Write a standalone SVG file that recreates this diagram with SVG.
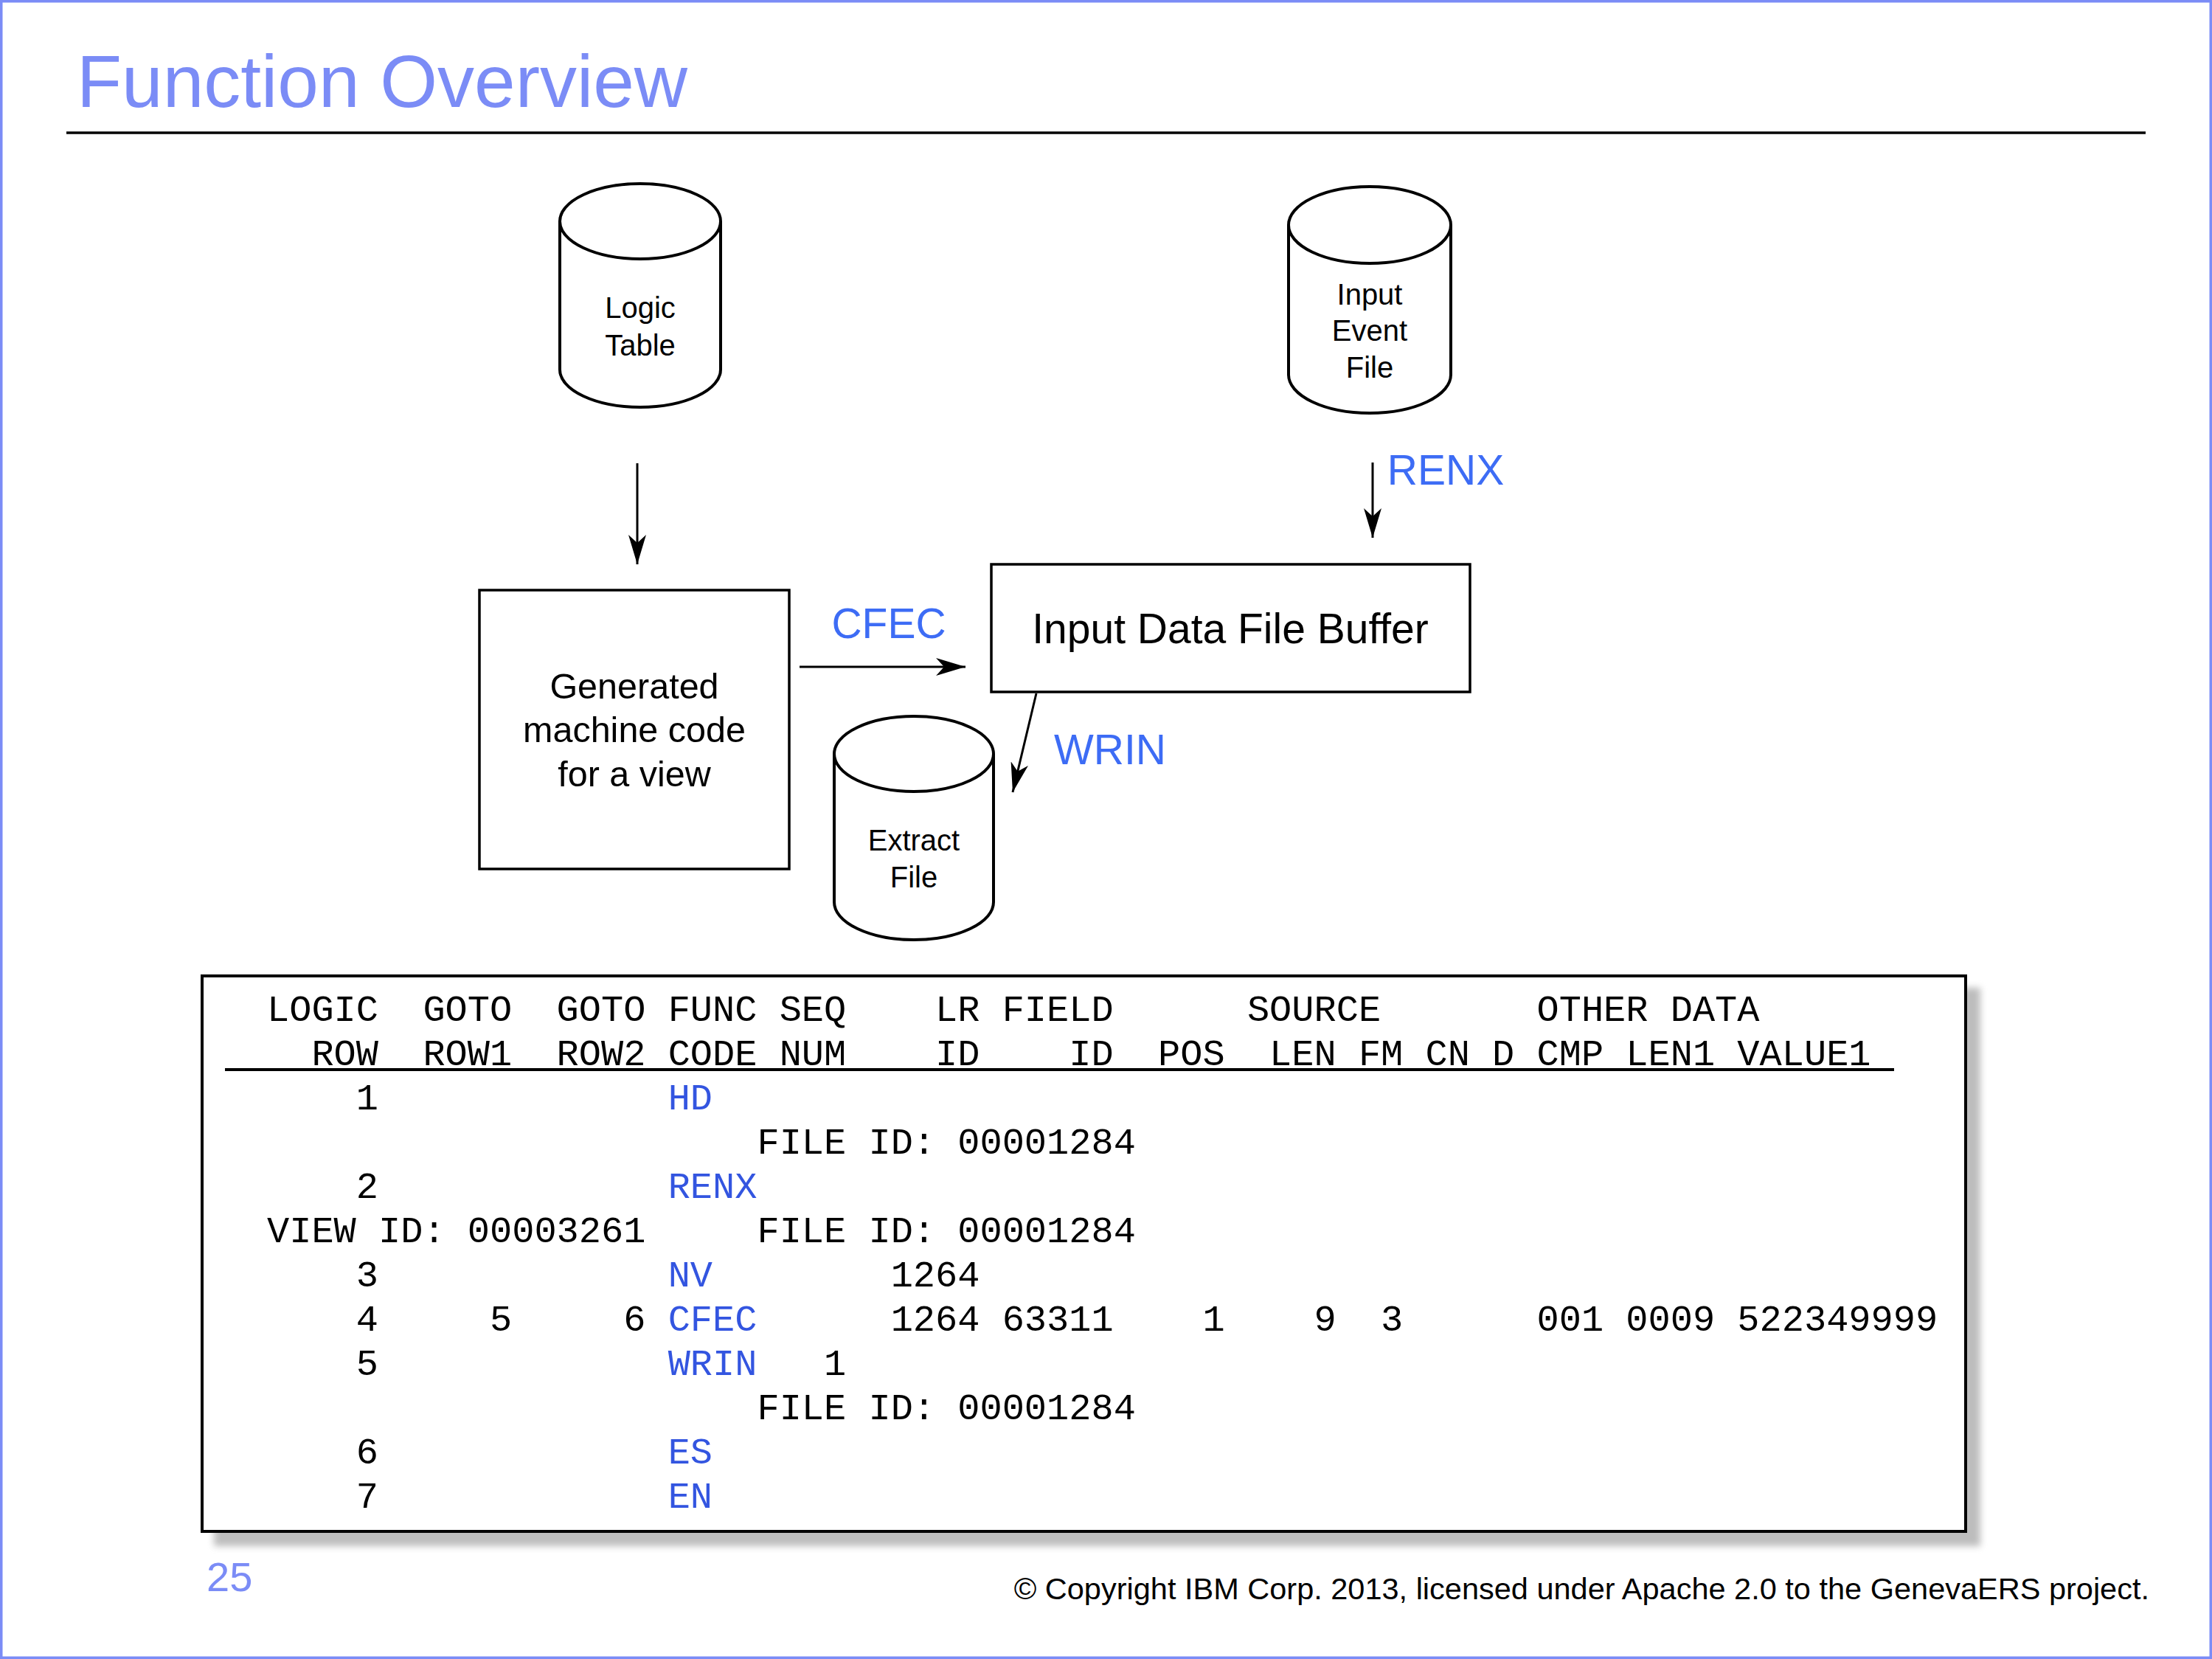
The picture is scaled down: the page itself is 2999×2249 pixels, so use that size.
<svg xmlns="http://www.w3.org/2000/svg" width="2999" height="2249" viewBox="0 0 2999 2249">
<style>
.sans{font-family:"Liberation Sans",Arial,Helvetica,sans-serif}
.mono{font-family:"Liberation Mono","Courier New",monospace;font-size:50.33px;fill:#000;white-space:pre}
.shape{fill:#fff;stroke:#000;stroke-width:4}
.box{fill:#fff;stroke:#000;stroke-width:3.5}
.lbl{font-family:"Liberation Sans",Arial,sans-serif;fill:#000;text-anchor:middle}
.flow{font-family:"Liberation Sans",Arial,sans-serif;fill:#3d6cf5;text-anchor:middle;font-size:57px}
.code{fill:#3355e0}
.conn{stroke:#000;stroke-width:3;fill:none;marker-end:url(#ah)}
</style>
<defs>
<marker id="ah" viewBox="0 0 40 24" refX="40" refY="12" markerWidth="40" markerHeight="24" markerUnits="userSpaceOnUse" orient="auto">
<path d="M0,0 L40,12 L0,24 L11,12 Z" fill="#000"/>
</marker>
<filter id="shadow" x="-5%" y="-5%" width="115%" height="115%">
<feDropShadow dx="18" dy="18" stdDeviation="5" flood-color="#bdbdbd" flood-opacity="1"/>
</filter>
</defs>
<rect x="0" y="0" width="2999" height="2249" fill="#fff"/>
<rect x="1.5" y="1.5" width="2996" height="2246" fill="none" stroke="#7b8cf6" stroke-width="4"/>

<g id="title">
<text x="104" y="145" class="sans" font-size="100" fill="#7b8cf6">Function Overview</text>
<line x1="90" y1="180" x2="2909" y2="180" stroke="#000" stroke-width="3.5"/>
</g>

<g id="logic-table">
<path class="shape" d="M759,300 L759,501 A109,51 0 0 0 977,501 L977,300"/>
<ellipse class="shape" cx="868" cy="300" rx="109" ry="51"/>
<text class="lbl" x="868" y="431" font-size="40">Logic</text>
<text class="lbl" x="868" y="482" font-size="40">Table</text>
</g>

<g id="input-event-file">
<path class="shape" d="M1747,305 L1747,508 A110,52 0 0 0 1967,508 L1967,305"/>
<ellipse class="shape" cx="1857" cy="305" rx="110" ry="52"/>
<text class="lbl" x="1857" y="413" font-size="40">Input</text>
<text class="lbl" x="1857" y="462" font-size="40">Event</text>
<text class="lbl" x="1857" y="512" font-size="40">File</text>
</g>

<g id="generated-code">
<rect class="box" x="650" y="800" width="420" height="378"/>
<text class="lbl" x="860" y="947" font-size="48.5">Generated</text>
<text class="lbl" x="860" y="1006" font-size="48.5">machine code</text>
<text class="lbl" x="860" y="1066" font-size="48.5">for a view</text>
</g>

<g id="input-buffer">
<rect class="box" x="1344" y="765" width="649" height="173"/>
<text class="lbl" x="1668" y="872" font-size="57">Input Data File Buffer</text>
</g>

<g id="extract-file">
<path class="shape" d="M1131,1022 L1131,1223 A108,51 0 0 0 1347,1223 L1347,1022"/>
<ellipse class="shape" cx="1239" cy="1022" rx="108" ry="51"/>
<text class="lbl" x="1239" y="1153" font-size="40">Extract</text>
<text class="lbl" x="1239" y="1203" font-size="40">File</text>
</g>

<g id="connectors">
<line class="conn" x1="864" y1="628" x2="864" y2="765"/>
<line class="conn" x1="1861" y1="627" x2="1861" y2="729"/>
<line class="conn" x1="1084" y1="904" x2="1309" y2="904"/>
<line class="conn" x1="1405" y1="940" x2="1373" y2="1074"/>
<text class="flow" x="1205" y="865">CFEC</text>
<text class="flow" x="1960" y="657" font-size="56">RENX</text>
<text class="flow" x="1505" y="1036">WRIN</text>
</g>

<g id="logic-table-listing">
<rect x="274" y="1323" width="2391" height="753" fill="#fff" stroke="#000" stroke-width="4" filter="url(#shadow)"/>
<line x1="305" y1="1450" x2="2568" y2="1450" stroke="#000" stroke-width="4"/>
<text class="mono" x="362" y="1384" xml:space="preserve">LOGIC  GOTO  GOTO FUNC SEQ    LR FIELD      SOURCE       OTHER DATA</text>
<text class="mono" x="362" y="1444" xml:space="preserve">  ROW  ROW1  ROW2 CODE NUM    ID    ID  POS  LEN FM CN D CMP LEN1 VALUE1</text>
<text class="mono" x="362" y="1504" xml:space="preserve">    1             <tspan class="code">HD</tspan></text>
<text class="mono" x="362" y="1564" xml:space="preserve">                      FILE ID: 00001284</text>
<text class="mono" x="362" y="1624" xml:space="preserve">    2             <tspan class="code">RENX</tspan></text>
<text class="mono" x="362" y="1684" xml:space="preserve">VIEW ID: 00003261     FILE ID: 00001284</text>
<text class="mono" x="362" y="1744" xml:space="preserve">    3             <tspan class="code">NV</tspan>        1264</text>
<text class="mono" x="362" y="1804" xml:space="preserve">    4     5     6 <tspan class="code">CFEC</tspan>      1264 63311    1    9  3      001 0009 522349999</text>
<text class="mono" x="362" y="1864" xml:space="preserve">    5             <tspan class="code">WRIN</tspan>   1</text>
<text class="mono" x="362" y="1924" xml:space="preserve">                      FILE ID: 00001284</text>
<text class="mono" x="362" y="1984" xml:space="preserve">    6             <tspan class="code">ES</tspan></text>
<text class="mono" x="362" y="2044" xml:space="preserve">    7             <tspan class="code">EN</tspan></text>
</g>

<g id="footer">
<text x="280" y="2157" class="sans" font-size="56" fill="#7b8cf6">25</text>
<text x="2914" y="2168" class="sans" font-size="41.5" fill="#000" text-anchor="end">© Copyright IBM Corp. 2013, licensed under Apache 2.0 to the GenevaERS project.</text>
</g>
</svg>
